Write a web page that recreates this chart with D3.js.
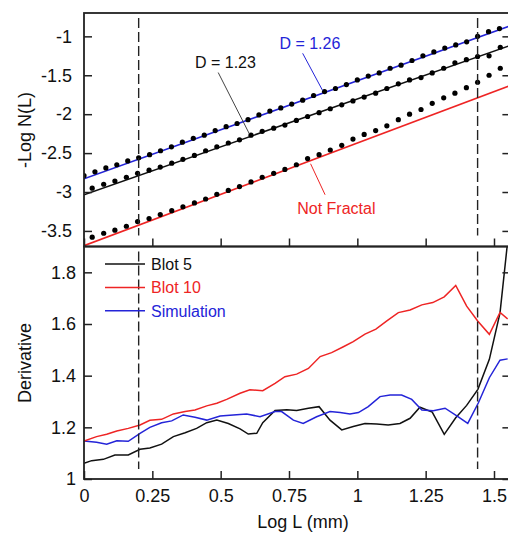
<!DOCTYPE html>
<html>
<head>
<meta charset="utf-8">
<script src="https://cdn.jsdelivr.net/npm/d3@7"></script>
<style>
  body { margin: 0; background: #fff; }
  svg { display: block; font-family: "Liberation Sans", Arial, sans-serif; }
</style>
</head>
<body>
<svg id="chart" width="508" height="534"></svg>
<script>
// ---- top panel: box counting, -Log N(L) vs Log L ----
const simLogL = [0, 0.04, 0.08, 0.12, 0.16, 0.2, 0.24, 0.28, 0.32, 0.36, 0.4, 0.44, 0.48, 0.52, 0.56,
  0.6, 0.64, 0.68, 0.72, 0.76, 0.8, 0.84, 0.88, 0.92, 0.96, 1.0, 1.04, 1.08, 1.12, 1.16,
  1.2, 1.24, 1.28, 1.32, 1.36, 1.4, 1.44, 1.48, 1.52];
const simLogN = [-2.79, -2.74, -2.69, -2.65, -2.60, -2.56, -2.52, -2.47, -2.42, -2.36, -2.31, -2.27, -2.21, -2.16, -2.12,
  -2.07, -2.01, -1.96, -1.92, -1.87, -1.82, -1.76, -1.71, -1.67, -1.62, -1.56, -1.51, -1.47, -1.41, -1.37,
  -1.31, -1.25, -1.20, -1.15, -1.11, -1.07, -1.00, -0.94, -0.90];

const blotLogL = [0.030, 0.072, 0.113, 0.155, 0.196, 0.238, 0.279, 0.321, 0.362, 0.404, 0.445, 0.486, 0.528,
  0.569, 0.611, 0.652, 0.694, 0.735, 0.777, 0.818, 0.860, 0.901, 0.943, 0.984, 1.025, 1.067,
  1.108, 1.150, 1.191, 1.233, 1.274, 1.316, 1.357, 1.399, 1.440, 1.482, 1.523];
const blot5LogN = [-2.95, -2.90, -2.86, -2.81, -2.76, -2.72, -2.68, -2.63, -2.58, -2.53, -2.47, -2.42, -2.37,
  -2.33, -2.27, -2.22, -2.18, -2.14, -2.08, -2.03, -1.98, -1.93, -1.88, -1.83, -1.78, -1.73,
  -1.67, -1.61, -1.56, -1.53, -1.47, -1.41, -1.34, -1.30, -1.26, -1.25, -1.14];
const blot10LogN = [-3.58, -3.53, -3.49, -3.44, -3.38, -3.34, -3.29, -3.24, -3.19, -3.14, -3.09, -3.03, -2.98,
  -2.93, -2.87, -2.81, -2.76, -2.71, -2.65, -2.57, -2.52, -2.46, -2.40, -2.32, -2.26, -2.21,
  -2.15, -2.07, -2.00, -1.94, -1.86, -1.79, -1.73, -1.66, -1.59, -1.50, -1.41];

// fitted lines: name, intercept, slope
const fitNames = ['D = 1.26', 'D = 1.23', 'Not Fractal'];
const fitIntercepts = [-2.83, -3.035, -3.69];
const fitSlopes = [1.26, 1.23, 1.32];
const fitColors = ['#2424d8', '#111111', '#ee2424'];

// ---- bottom panel: local derivative ----
const blot5DerivX = [0, 0.028, 0.071, 0.113, 0.162, 0.205, 0.241, 0.284, 0.327, 0.370, 0.412, 0.449, 0.486, 0.528,
  0.571, 0.601, 0.632, 0.654, 0.699, 0.742, 0.778, 0.821, 0.860, 0.900, 0.943, 0.985, 1.028, 1.071,
  1.113, 1.156, 1.193, 1.229, 1.274, 1.318, 1.360, 1.400, 1.441, 1.483, 1.522, 1.55];
const blot5Deriv = [1.061, 1.071, 1.076, 1.093, 1.093, 1.115, 1.120, 1.135, 1.164, 1.179, 1.196, 1.218, 1.228, 1.215,
  1.194, 1.174, 1.177, 1.218, 1.265, 1.268, 1.265, 1.274, 1.280, 1.228, 1.190, 1.203, 1.215, 1.213,
  1.209, 1.215, 1.235, 1.278, 1.259, 1.173, 1.237, 1.285, 1.347, 1.463, 1.643, 1.92];
const blot10DerivX = [0, 0.046, 0.083, 0.120, 0.162, 0.205, 0.241, 0.284, 0.327, 0.370, 0.406, 0.449, 0.486, 0.522,
  0.571, 0.607, 0.654, 0.699, 0.735, 0.778, 0.821, 0.864, 0.906, 0.949, 0.985, 1.028, 1.068, 1.108,
  1.150, 1.193, 1.236, 1.276, 1.318, 1.360, 1.400, 1.441, 1.483, 1.522, 1.55];
const blot10Deriv = [1.147, 1.164, 1.173, 1.186, 1.196, 1.209, 1.227, 1.231, 1.252, 1.261, 1.267, 1.283, 1.293, 1.308,
  1.332, 1.345, 1.342, 1.370, 1.396, 1.406, 1.428, 1.474, 1.489, 1.512, 1.532, 1.561, 1.580, 1.612,
  1.644, 1.654, 1.674, 1.683, 1.705, 1.749, 1.669, 1.611, 1.560, 1.645, 1.620];
const simDerivX = [0, 0.046, 0.083, 0.120, 0.162, 0.205, 0.241, 0.284, 0.321, 0.363, 0.406, 0.449, 0.498, 0.546,
  0.595, 0.644, 0.699, 0.723, 0.766, 0.802, 0.851, 0.900, 0.937, 0.973, 1.004, 1.040, 1.083, 1.120,
  1.162, 1.199, 1.236, 1.278, 1.321, 1.364, 1.404, 1.443, 1.483, 1.522, 1.55];
const simDeriv = [1.147, 1.142, 1.135, 1.148, 1.146, 1.177, 1.200, 1.218, 1.225, 1.248, 1.239, 1.228, 1.244, 1.248,
  1.252, 1.241, 1.261, 1.261, 1.228, 1.215, 1.241, 1.261, 1.257, 1.252, 1.257, 1.280, 1.319, 1.325,
  1.325, 1.308, 1.267, 1.264, 1.274, 1.244, 1.215, 1.295, 1.392, 1.460, 1.465];

const legendNames = ['Blot 5', 'Blot 10', 'Simulation'];
const legendColors = ['#111111', '#ee2424', '#2424d8'];

const xTicks = [0, 0.25, 0.5, 0.75, 1, 1.25, 1.5];
const topTicks = [-3.5, -3, -2.5, -2, -1.5, -1];
const botTicks = [1, 1.2, 1.4, 1.6, 1.8];
const cutoffs = [0.2, 1.44];

// ---- layout ----
const plotLeft = 84, plotRight = 510.4;
const topY0 = 13, midY = 246.5, botY1 = 479;

const svg = d3.select('#chart');

const x = d3.scaleLinear().domain([0, 1.56]).range([plotLeft, plotRight]);
const yTop = d3.scaleLinear().domain([-3.7, -0.7]).range([midY, topY0]);
const yBot = d3.scaleLinear().domain([1, 1.9]).range([botY1, midY]);

const defs = svg.append('defs');
defs.append('clipPath').attr('id', 'clipTop').append('rect')
  .attr('x', plotLeft).attr('y', topY0).attr('width', plotRight - plotLeft).attr('height', midY - topY0);
defs.append('clipPath').attr('id', 'clipBot').append('rect')
  .attr('x', plotLeft).attr('y', midY).attr('width', plotRight - plotLeft).attr('height', botY1 - midY);

function styleAxis(g) {
  g.select('.domain').remove();
  g.selectAll('.tick line').attr('stroke', '#222').attr('stroke-width', 1.5);
  g.selectAll('.tick text').attr('fill', '#111').style('font-size', '18px');
}

// ---- top panel ----
const topPanel = svg.append('g').attr('clip-path', 'url(#clipTop)');

topPanel.selectAll('line.fit')
  .data(fitNames)
  .enter().append('line')
  .attr('class', 'fit')
  .attr('x1', x(0)).attr('x2', x(1.56))
  .attr('y1', (d, i) => yTop(fitIntercepts[i]))
  .attr('y2', (d, i) => yTop(fitIntercepts[i] + fitSlopes[i] * 1.56))
  .attr('stroke', (d, i) => fitColors[i])
  .attr('stroke-width', 1.6);

const dotSets = [
  { xs: simLogL, ys: simLogN },
  { xs: blotLogL, ys: blot5LogN },
  { xs: blotLogL, ys: blot10LogN }
];
dotSets.forEach(s => {
  topPanel.append('g').selectAll('circle')
    .data(s.ys)
    .enter().append('circle')
    .attr('cx', (d, i) => x(s.xs[i]))
    .attr('cy', d => yTop(d))
    .attr('r', 2.6)
    .attr('fill', '#000');
});

topPanel.selectAll('line.cut')
  .data(cutoffs)
  .enter().append('line')
  .attr('class', 'cut')
  .attr('x1', d => x(d)).attr('x2', d => x(d))
  .attr('y1', topY0 + 5).attr('y2', midY - 11)
  .attr('stroke', '#222').attr('stroke-width', 1.4)
  .attr('stroke-dasharray', '10,4');

// annotations (positions in data units)
const notes = [
  { text: 'D = 1.23', color: '#111', tx: 0.406, ty: -1.41, lx1: 0.491, ly1: -1.465, lx2: 0.605, ly2: -2.253 },
  { text: 'D = 1.26', color: '#2424d8', tx: 0.715, ty: -1.167, lx1: 0.800, ly1: -1.218, lx2: 0.873, ly2: -1.696 },
  { text: 'Not Fractal', color: '#ee2424', tx: 0.780, ty: -3.288, lx1: 0.829, ly1: -2.637, lx2: 0.882, ly2: -3.035 }
];
notes.forEach(n => {
  svg.append('line')
    .attr('x1', x(n.lx1)).attr('y1', yTop(n.ly1))
    .attr('x2', x(n.lx2)).attr('y2', yTop(n.ly2))
    .attr('stroke', n.color === '#111' ? '#444' : n.color)
    .attr('stroke-width', 1);
  svg.append('text')
    .attr('x', x(n.tx)).attr('y', yTop(n.ty))
    .attr('fill', n.color)
    .style('font-size', '16px')
    .text(n.text);
});

svg.append('g').attr('transform', `translate(${plotLeft},0)`)
  .call(d3.axisLeft(yTop).tickValues(topTicks).tickSize(-8).tickPadding(12).tickFormat(d => String(d)))
  .call(styleAxis);
svg.append('g').attr('transform', `translate(${plotRight},0)`)
  .call(d3.axisRight(yTop).tickValues(topTicks).tickSize(-8).tickFormat(''))
  .call(styleAxis);
svg.append('g').attr('transform', `translate(0,${midY})`)
  .call(d3.axisBottom(x).tickValues(xTicks).tickSize(-8).tickFormat(''))
  .call(styleAxis);

// ---- bottom panel ----
const botPanel = svg.append('g').attr('clip-path', 'url(#clipBot)');
const derivLine = d3.line().x(d => x(d[0])).y(d => yBot(d[1]));
const derivSets = [
  { xs: blot5DerivX, ys: blot5Deriv, color: '#111111' },
  { xs: simDerivX, ys: simDeriv, color: '#2424d8' },
  { xs: blot10DerivX, ys: blot10Deriv, color: '#ee2424' }
];
derivSets.forEach(s => {
  botPanel.append('path')
    .datum(s.ys.map((v, i) => [s.xs[i], v]))
    .attr('d', derivLine)
    .attr('fill', 'none')
    .attr('stroke', s.color)
    .attr('stroke-width', 1.5);
});

botPanel.selectAll('line.cut')
  .data(cutoffs)
  .enter().append('line')
  .attr('class', 'cut')
  .attr('x1', d => x(d)).attr('x2', d => x(d))
  .attr('y1', midY + 5).attr('y2', botY1 - 10)
  .attr('stroke', '#222').attr('stroke-width', 1.4)
  .attr('stroke-dasharray', '10,4');

// legend
const legend = svg.append('g').attr('transform', 'translate(105,264)');
legendNames.forEach((name, i) => {
  const row = legend.append('g').attr('transform', `translate(0,${i * 23.4})`);
  row.append('line').attr('x1', 0).attr('x2', 40).attr('y1', 0).attr('y2', 0)
    .attr('stroke', legendColors[i]).attr('stroke-width', 1.5);
  row.append('text').attr('x', 46).attr('y', 0).attr('dy', '0.36em')
    .attr('fill', legendColors[i]).style('font-size', '16px').text(name);
});

svg.append('g').attr('transform', `translate(${plotLeft},0)`)
  .call(d3.axisLeft(yBot).tickValues(botTicks).tickSize(-8).tickPadding(8).tickFormat(d => String(d)))
  .call(styleAxis);
svg.append('g').attr('transform', `translate(${plotRight},0)`)
  .call(d3.axisRight(yBot).tickValues(botTicks).tickSize(-8).tickFormat(''))
  .call(styleAxis);
svg.append('g').attr('transform', `translate(0,${botY1})`)
  .call(d3.axisBottom(x).tickValues(xTicks).tickSize(-8).tickPadding(10).tickFormat(d => String(d)))
  .call(styleAxis);

// frames
[[topY0, midY], [midY, botY1]].forEach(([a, b]) => {
  svg.append('rect')
    .attr('x', plotLeft).attr('y', a)
    .attr('width', plotRight - plotLeft).attr('height', b - a)
    .attr('fill', 'none').attr('stroke', '#222').attr('stroke-width', 1.8);
});

// axis titles
svg.append('text')
  .attr('transform', 'translate(31,130) rotate(-90)')
  .attr('text-anchor', 'middle').style('font-size', '18px').attr('fill', '#111')
  .text('-Log N(L)');
svg.append('text')
  .attr('transform', 'translate(31,363) rotate(-90)')
  .attr('text-anchor', 'middle').style('font-size', '18px').attr('fill', '#111')
  .text('Derivative');
svg.append('text')
  .attr('x', 303).attr('y', 528)
  .attr('text-anchor', 'middle').style('font-size', '18px').attr('fill', '#111')
  .text('Log L (mm)');
</script>
</body>
</html>
